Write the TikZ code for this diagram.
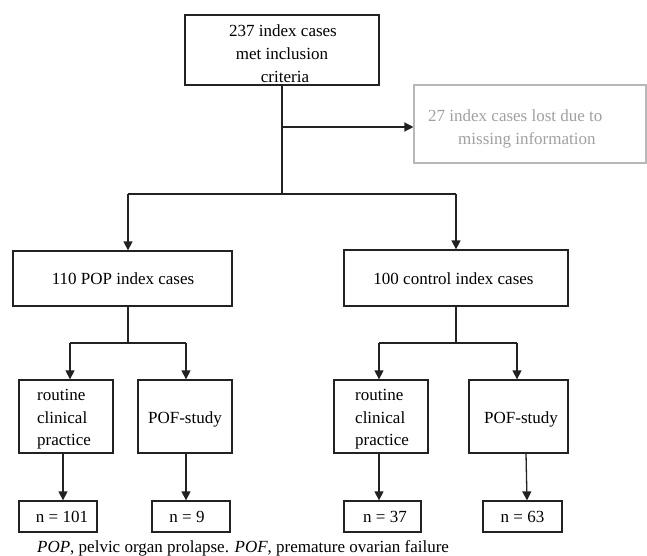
\documentclass[tikz,border=0pt]{standalone}
\usepackage{fontspec}
\setmainfont{Liberation Serif}
\usetikzlibrary{arrows.meta}
\definecolor{linec}{HTML}{222222}
\definecolor{grayb}{HTML}{B8B8B8}
\definecolor{grayt}{HTML}{A0A0A0}
\begin{document}
\begin{tikzpicture}[x=1pt,y=-1pt,
  box/.style={draw=linec, line width=1.3pt, inner sep=0pt},
  gbox/.style={draw=grayb, line width=1.1pt, inner sep=0pt},
  txt/.style={inner sep=0pt, font=\fontsize{17}{23}\selectfont, text=black},
  gtxt/.style={txt, text=grayt},
  conn/.style={draw=linec, line width=1.3pt},
  arr/.style={conn, -{Triangle[length=9pt,width=9pt]}}]
\useasboundingbox (0,0) rectangle (647,556);

% top box
\node[box, minimum width=194pt, minimum height=70pt] (top) at (282,50) {};
\node[txt, anchor=base] (t1) at (283,37) {237 index cases};
\node[txt, anchor=base] (t2) at (282,60) {met inclusion};
\node[txt, anchor=base] (t3) at (285,83) {criteria};

% lost box
\node[gbox, minimum width=232pt, minimum height=78pt] (lost) at (530,124) {};
\node[gtxt, anchor=base west] (l1) at (428,122) {27 index cases lost due to};
\node[gtxt, anchor=base west] (l2) at (458,145) {missing information};

% second level
\node[box, minimum width=219pt, minimum height=55pt] (pop) at (122.5,278.5) {};
\node[txt, anchor=base] (popt) at (123,284) {110 POP index cases};
\node[box, minimum width=224pt, minimum height=56pt] (ctrl) at (456,278) {};
\node[txt, anchor=base] (ctrlt) at (453.5,284) {100 control index cases};

% third level
\node[box, minimum width=94pt, minimum height=73pt] (r1) at (66,416.5) {};
\node[txt, anchor=base west] (r1a) at (37,400) {routine};
\node[txt, anchor=base west] (r1b) at (37,423) {clinical};
\node[txt, anchor=base west] (r1c) at (37,445) {practice};
\node[box, minimum width=94pt, minimum height=73pt] (p1) at (185,416.5) {};
\node[txt, anchor=base] (p1t) at (185,423) {POF-study};
\node[box, minimum width=94pt, minimum height=73pt] (r2) at (381,416.5) {};
\node[txt, anchor=base west] (r2a) at (355,400) {routine};
\node[txt, anchor=base west] (r2b) at (355,423) {clinical};
\node[txt, anchor=base west] (r2c) at (355,445) {practice};
\node[box, minimum width=99pt, minimum height=73pt] (p2) at (518.5,416.5) {};
\node[txt, anchor=base] (p2t) at (521,423) {POF-study};

% bottom level
\node[box, minimum width=78pt, minimum height=31pt] (n1) at (58,516.5) {};
\node[txt, anchor=base] (n1t) at (62,522) {n = 101};
\node[box, minimum width=78pt, minimum height=31pt] (n2) at (191,516.5) {};
\node[txt, anchor=base] (n2t) at (187,522) {n = 9};
\node[box, minimum width=77pt, minimum height=31pt] (n3) at (382.5,516.5) {};
\node[txt, anchor=base] (n3t) at (385,522) {n = 37};
\node[box, minimum width=79pt, minimum height=31pt] (n4) at (522.5,516.5) {};
\node[txt, anchor=base] (n4t) at (522.5,522) {n = 63};

% caption
\node[txt, anchor=base west] (cap) at (37,552) {\textit{POP}, pelvic organ prolapse. \textit{POF}, premature ovarian failure};

% connectors, level 1
\coordinate (j1) at (282,127);
\coordinate (j2) at (282,194);
\coordinate (bl) at (128,194);
\coordinate (br) at (456,194);
\draw[conn] (top.south) -- (j2);
\draw[arr] (j1) -- (lost.west |- j1);
\draw[conn] (bl) -- (br);
\draw[arr] (bl) -- (bl |- pop.north);
\draw[arr] (br) -- (br |- ctrl.north);

% connectors, POP branch
\coordinate (pj) at (128,343);
\coordinate (pl) at (70,343);
\coordinate (pr) at (186,343);
\draw[conn] (pj |- pop.south) -- (pj);
\draw[conn] (pl) -- (pr);
\draw[arr] (pl) -- (pl |- r1.north);
\draw[arr] (pr) -- (pr |- p1.north);

% connectors, control branch
\coordinate (cj) at (456,343);
\coordinate (cl) at (379,343);
\coordinate (cr) at (517,343);
\draw[conn] (cj |- ctrl.south) -- (cj);
\draw[conn] (cl) -- (cr);
\draw[arr] (cl) -- (cl |- r2.north);
\draw[arr] (cr) -- (cr |- p2.north);

% connectors to counts
\draw[arr] ([xshift=-3pt]r1.south) -- ([xshift=-3pt]r1.south |- n1.north);
\draw[arr] ([xshift=1pt]p1.south) -- ([xshift=1pt]p1.south |- n2.north);
\draw[arr] ([xshift=-2pt]r2.south) -- ([xshift=-2pt]r2.south |- n3.north);
\draw[arr] ([xshift=7.5pt]p2.south) -- ([xshift=4.5pt]n4.north);
\end{tikzpicture}
\end{document}
